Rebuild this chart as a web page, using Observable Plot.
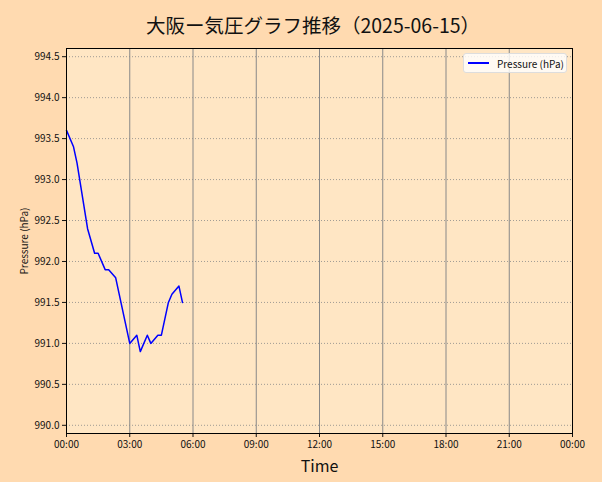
<!DOCTYPE html>
<html>
<head>
<meta charset="utf-8">
<script src="https://cdn.jsdelivr.net/npm/d3@7"></script>
<script src="https://cdn.jsdelivr.net/npm/@observablehq/plot@0.6"></script>
<style>
  html, body { margin: 0; padding: 0; background: #FFDAB0; }
  #wrap { position: relative; width: 602px; height: 482px; background: #FFDAB0; }
  #title { height: 40px; line-height: 50px; text-align: center; padding-left: 24px; box-sizing: border-box; font-family: "Noto Sans CJK JP", sans-serif; font-size: 19.5px; color: #111; }
  #legend { position: absolute; left: 463px; top: 53px; width: 102px; height: 18px; background: rgba(255,255,255,0.8);
            border: 1px solid #ddd; border-radius: 3px; font-family: "Noto Sans CJK JP", sans-serif; font-size: 10px;
            display: flex; align-items: center; color: #111; }
  #legend .sw { width: 21px; height: 1.5px; background: #0000ff; margin-left: 4px; margin-right: 8px; }
</style>
</head>
<body>
<div id="wrap">
  <div id="title">大阪ー気圧グラフ推移（2025-06-15）</div>
  <div id="chart"></div>
  <div id="legend"><span class="sw"></span><span>Pressure (hPa)</span></div>
</div>
<script>
const times = ["00:00","00:20","00:30","01:00","01:20","01:30","01:50","02:00","02:20","03:00","03:20","03:30","03:50","04:00","04:20","04:30","04:50","05:00","05:20","05:30"];
const pressure = [993.6,993.4,993.2,992.4,992.1,992.1,991.9,991.9,991.8,991.0,991.1,990.9,991.1,991.0,991.1,991.1,991.5,991.6,991.7,991.5];
const yTicks = [990.0,990.5,991.0,991.5,992.0,992.5,993.0,993.5,994.0,994.5];
const xTickHours = [0,3,6,9,12,15,18,21,24];

const toDate = (hh, mm) => new Date(Date.UTC(2025, 5, 15, hh, mm));
const data = times.map((t, i) => {
  const [h, m] = t.split(":").map(Number);
  return {time: toDate(h, m), value: pressure[i]};
});
const xTicks = xTickHours.map(h => toDate(h, 0));

const chart = Plot.plot({
  width: 602,
  height: 442,
  marginLeft: 66,
  marginRight: 30,
  marginTop: 8,
  marginBottom: 49,
  style: {background: "transparent", fontFamily: "Noto Sans CJK JP, sans-serif", fontSize: "10px", color: "#111"},
  x: {type: "utc", domain: [toDate(0,0), toDate(24,0)], ticks: xTicks, tickFormat: d3.utcFormat("%H:%M"), label: null, tickSize: 4},
  y: {domain: [989.9, 994.6], ticks: yTicks, tickFormat: d3.format(".1f"), label: null, tickSize: 4},
  marks: [
    Plot.rect([0], {x1: toDate(0,0), x2: toDate(24,0), y1: 989.9, y2: 994.6, fill: "#FFE6C4"}),
    Plot.ruleX(xTicks, {stroke: "#888", strokeWidth: 1}),
    Plot.ruleY(yTicks, {stroke: "#888", strokeWidth: 0.8, strokeDasharray: "1,2"}),
    Plot.axisX({ticks: xTicks, tickFormat: d3.utcFormat("%H:%M"), label: null, tickSize: 4, tickPadding: 3}),
    Plot.axisY({ticks: yTicks, tickFormat: d3.format(".1f"), label: null, tickSize: 4, tickPadding: 3}),
    Plot.line(data, {x: "time", y: "value", stroke: "#0000ff", strokeWidth: 1.5}),
    Plot.frame({stroke: "#000", strokeWidth: 1}),
    Plot.text(["Time"], {frameAnchor: "bottom", dy: 38, fontSize: 16, fill: "#111"}),
    Plot.text(["Pressure (hPa)"], {frameAnchor: "left", dx: -42, rotate: -90, textAnchor: "middle", fontSize: 10, fill: "#111"})
  ]
});
document.getElementById("chart").appendChild(chart);
</script>
</body>
</html>
